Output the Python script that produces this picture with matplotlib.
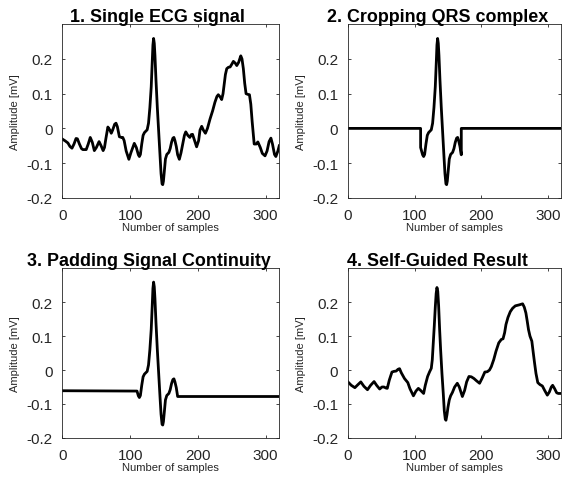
import matplotlib
matplotlib.use("Agg")
import matplotlib.pyplot as plt

plt.rcParams["font.family"] = ["Liberation Sans", "DejaVu Sans"]

AX_COLOR = "#262626"

TITLES = [
    "1. Single ECG signal",
    "2. Cropping QRS complex",
    "3. Padding Signal Continuity",
    "4. Self-Guided Result",
]

# panel 1: raw ECG beat (sample index, mV)
ecg_x = [0, 4, 8, 11, 14, 17, 20, 22, 25, 28, 30, 35, 38, 41, 44, 47, 50, 54,
         57, 60, 62, 64, 67, 70, 72, 74, 77, 79, 81, 84, 87, 89, 91, 94, 98,
         101, 106, 109, 110, 112, 113.5, 115, 117, 119, 121, 123, 125, 127, 129,
         131, 132.5, 133.5, 134.5, 135.5, 136.5, 138, 140, 142, 144, 145.5, 147,
         148, 149, 150.5, 152, 154, 157, 159, 161, 163, 164.5, 166, 168, 170,
         172.5, 175, 177, 180, 182, 185, 188, 190, 192, 195, 198, 201, 203,
         205.5, 208, 211, 214, 217.8, 221.7, 225, 228, 230, 233, 235, 237,
         238.5, 240.5, 242.5, 245, 247.5, 250, 252.3, 255, 257.3, 260, 263.2,
         265, 267, 269, 271, 273.5, 276, 278, 280, 283, 286, 288.4, 292, 295,
         299, 302, 305, 307.7, 310, 313, 315, 318, 320]
ecg_y = [-0.031, -0.036, -0.042, -0.052, -0.057, -0.045, -0.029, -0.030,
         -0.045, -0.058, -0.061, -0.061, -0.045, -0.026, -0.040, -0.064, -0.055,
         -0.038, -0.050, -0.064, -0.055, -0.030, 0.004, -0.005, -0.014, -0.005,
         0.012, 0.015, 0.005, -0.024, -0.026, -0.026, -0.035, -0.065, -0.089,
         -0.070, -0.043, -0.055, -0.062, -0.076, -0.081, -0.075, -0.045, -0.020,
         -0.012, -0.008, -0.004, 0.015, 0.060, 0.120, 0.190, 0.240, 0.259,
         0.245, 0.210, 0.140, 0.060, -0.010, -0.080, -0.130, -0.160, -0.162,
         -0.152, -0.120, -0.088, -0.075, -0.069, -0.058, -0.040, -0.028, -0.026,
         -0.035, -0.052, -0.076, -0.089, -0.070, -0.050, -0.020, -0.010, -0.020,
         -0.026, -0.018, -0.017, -0.035, -0.053, -0.035, -0.005, 0.006, -0.005,
         -0.014, 0.000, 0.027, 0.051, 0.075, 0.092, 0.097, 0.090, 0.083, 0.100,
         0.124, 0.155, 0.172, 0.176, 0.177, 0.185, 0.193, 0.188, 0.181, 0.190,
         0.209, 0.200, 0.172, 0.130, 0.100, 0.098, 0.097, 0.070, 0.020, -0.045,
         -0.045, -0.039, -0.055, -0.072, -0.079, -0.065, -0.038, -0.028, -0.045,
         -0.075, -0.081, -0.065, -0.050]

# panel 2: QRS segment kept, zero elsewhere
crop_x = [0, 109, 109, 110, 112, 113.5, 115, 117, 119, 121, 123, 125, 127, 129,
          131, 132.5, 133.5, 134.5, 135.5, 136.5, 138, 140, 142, 144, 145.5,
          147, 148, 149, 150.5, 152, 154, 157, 159, 161, 163, 164.5, 166, 168,
          170, 170, 320]
crop_y = [0.0, 0.0, -0.055, -0.062, -0.076, -0.081, -0.075, -0.045, -0.020,
          -0.012, -0.008, -0.004, 0.015, 0.060, 0.120, 0.190, 0.240, 0.259,
          0.245, 0.210, 0.140, 0.060, -0.010, -0.080, -0.130, -0.160, -0.162,
          -0.152, -0.120, -0.088, -0.075, -0.069, -0.058, -0.040, -0.028,
          -0.026, -0.035, -0.052, -0.076, 0.0, 0.0]

# panel 3: QRS segment padded with its edge values
pad_x = [0, 110, 112, 113.5, 115, 117, 119, 121, 123, 125, 127, 129, 131,
         132.5, 133.5, 134.5, 135.5, 136.5, 138, 140, 142, 144, 145.5, 147, 148,
         149, 150.5, 152, 154, 157, 159, 161, 163, 164.5, 166, 168, 170, 320]
pad_y = [-0.061, -0.062, -0.076, -0.081, -0.075, -0.045, -0.020, -0.012,
         -0.008, -0.004, 0.015, 0.060, 0.120, 0.190, 0.240, 0.259, 0.245,
         0.210, 0.140, 0.060, -0.010, -0.080, -0.130, -0.160, -0.162, -0.152,
         -0.120, -0.088, -0.075, -0.069, -0.058, -0.040, -0.028, -0.026,
         -0.035, -0.052, -0.078, -0.078]

# panel 4: self-guided output beat
gen_x = [0, 5, 10.4, 15, 19.3, 24, 29.3, 34, 39.2, 43, 47.6, 51, 54, 57, 59,
         62, 66, 69, 72.4, 75, 77.4, 80, 84.8, 89.8, 93, 98.2, 102, 105.6, 109,
         113.5, 116, 119.5, 122.5, 125, 126.5, 128, 129.5, 131, 132.3, 133.5,
         134.7, 136, 137.5, 139, 141, 143, 144.5, 146, 147, 148.5, 150, 152,
         154, 156.7, 160, 164, 167, 171.6, 175, 178, 181.5, 185, 189, 193,
         197.4, 201, 205.3, 209, 212.3, 215, 218.7, 222, 226.2, 230, 232.6, 235,
         237, 240, 243.5, 247, 251, 257, 262, 264.5, 266.9, 268.8, 270.8, 273,
         275.8, 278, 279.8, 282, 284.7, 288, 291.6, 295, 299, 302, 305, 307,
         310, 313, 315.5, 320]
gen_y = [-0.035, -0.045, -0.052, -0.043, -0.035, -0.048, -0.058, -0.045,
         -0.034, -0.045, -0.056, -0.050, -0.050, -0.053, -0.054, -0.030,
         -0.006, -0.004, -0.003, 0.002, 0.004, -0.008, -0.025, -0.037, -0.055,
         -0.076, -0.062, -0.054, -0.060, -0.069, -0.045, -0.019, -0.005, 0.005,
         0.030, 0.080, 0.130, 0.185, 0.225, 0.243, 0.232, 0.190, 0.120, 0.060,
         -0.010, -0.070, -0.120, -0.145, -0.148, -0.132, -0.110, -0.088,
         -0.076, -0.066, -0.050, -0.039, -0.050, -0.078, -0.060, -0.035,
         -0.019, -0.020, -0.025, -0.032, -0.039, -0.025, -0.006, -0.005, 0.000,
         0.010, 0.031, 0.055, 0.080, 0.090, 0.092, 0.110, 0.134, 0.155, 0.172,
         0.182, 0.189, 0.192, 0.195, 0.185, 0.168, 0.145, 0.119, 0.100, 0.085,
         0.050, 0.022, -0.010, -0.037, -0.043, -0.047, -0.060, -0.074, -0.065,
         -0.050, -0.045, -0.055, -0.067, -0.069, -0.069]

SERIES = [(ecg_x, ecg_y), (crop_x, crop_y), (pad_x, pad_y), (gen_x, gen_y)]

X_TICKS = [0, 100, 200, 300]
Y_TICKS = [-0.2, -0.1, 0, 0.1, 0.2]
Y_TICKLABELS = ["-0.2", "-0.1", "0", "0.1", "0.2"]

# axes rectangles in figure fractions (left, bottom, width, height)
POSITIONS = [
    (0.111, 0.590, 0.385, 0.358),
    (0.618, 0.590, 0.379, 0.358),
    (0.111, 0.095, 0.385, 0.350),
    (0.618, 0.095, 0.379, 0.350),
]
# title centres, in axes fractions (the titles sit left of centre)
TITLE_X = [0.4375, 0.421, 0.397, 0.421]


def style_axes(ax, title, title_x):
    ax.set_xlim(0, 320)
    ax.set_ylim(-0.2, 0.3)
    ax.set_xticks(X_TICKS)
    ax.set_yticks(Y_TICKS)
    ax.set_yticklabels(Y_TICKLABELS)
    ax.tick_params(direction="in", length=2.5, width=0.6, top=True,
                   right=True, labelsize=11, colors=AX_COLOR)
    ax.tick_params(axis="y", pad=7)
    ax.tick_params(axis="x", pad=7)
    for sp in ax.spines.values():
        sp.set_linewidth(0.6)
        sp.set_color(AX_COLOR)
    ax.set_xlabel("Number of samples", fontsize=8, color=AX_COLOR, labelpad=0)
    ax.set_ylabel("Amplitude [mV]", fontsize=8, color=AX_COLOR, labelpad=4.5)
    ax.set_title(title, fontsize=12.9, fontweight="bold", pad=2.5, x=title_x)


def main():
    fig = plt.figure(figsize=(5.63, 4.85), dpi=100)
    for (xs, ys), pos, title, tx in zip(SERIES, POSITIONS, TITLES, TITLE_X):
        ax = fig.add_axes(pos)
        ax.plot(xs, ys, color="black", lw=2.0, solid_joinstyle="round")
        style_axes(ax, title, tx)
    fig.savefig("out.png", dpi=100)
    plt.close(fig)


if __name__ == "__main__":
    main()
